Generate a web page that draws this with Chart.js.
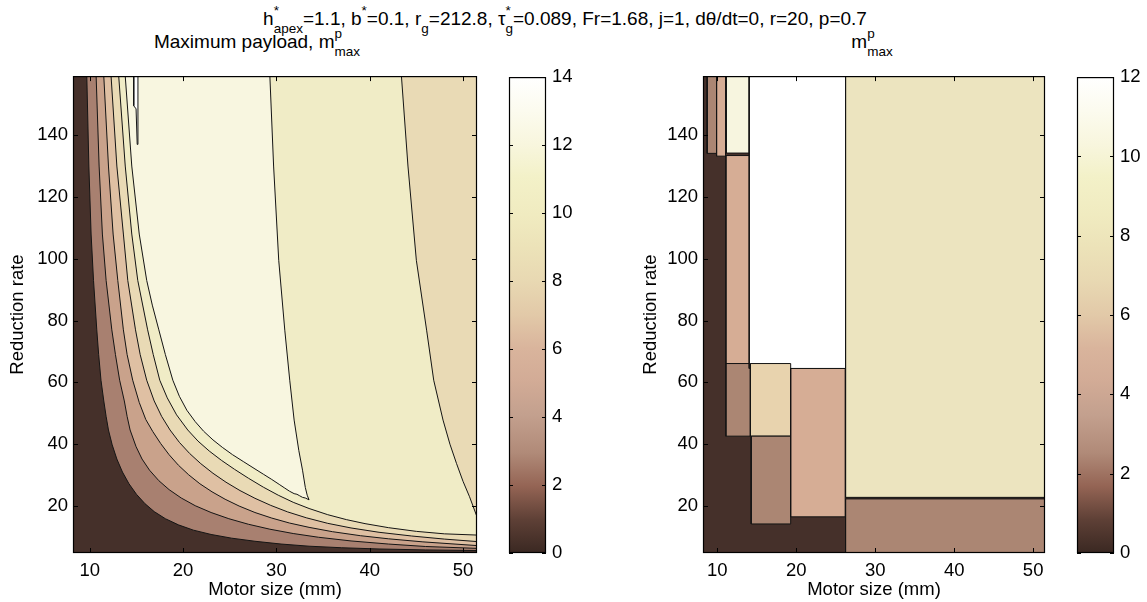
<!DOCTYPE html>
<html>
<head>
<meta charset="utf-8">
<title>Maximum payload</title>
<script src="https://cdn.jsdelivr.net/npm/chart.js@4.4.1/dist/chart.umd.min.js"></script>
<style>
  body { margin: 0; background: #fff; width: 1147px; height: 602px; position: relative; overflow: hidden;
         font-family: 'Liberation Sans', Arial, sans-serif; color: #000; }
  canvas { position: absolute; }
  .ttl { position: absolute; font-size: 19px; line-height: 19px; white-space: nowrap; }
  .ss { position: relative; display: inline-block; font-size: 13.5px; line-height: 13.5px; }
  .ss .hi { position: absolute; left: 0; top: -10px; }
  .ss .lo { position: relative; top: 8px; }
  .hi1 { position: relative; top: -10px; font-size: 13.5px; }
  .lo1 { position: relative; top: 8px; font-size: 13.5px; }
</style>
</head>
<body>
<div class="ttl" style="left:0;width:1130px;text-align:center;top:9px">h<span class="ss"><span class="hi">*</span><span class="lo">apex</span></span>=1.1, b<span class="hi1">*</span>=0.1, r<span class="lo1">g</span>=212.8, τ<span class="ss"><span class="hi">*</span><span class="lo">g</span></span>=0.089, Fr=1.68, j=1, dθ/dt=0, r=20, p=0.7</div>
<div class="ttl" style="left:57px;width:400px;text-align:center;top:32px">Maximum payload, m<span class="ss"><span class="hi">p</span><span class="lo">max</span></span></div>
<div class="ttl" style="left:772px;width:200px;text-align:center;top:32px">m<span class="ss"><span class="hi">p</span><span class="lo">max</span></span></div>

<canvas id="payload" width="500" height="542" style="left:0;top:60px"></canvas>
<canvas id="payloadBar" width="100" height="542" style="left:500px;top:60px"></canvas>
<canvas id="grid" width="440" height="542" style="left:630px;top:60px"></canvas>
<canvas id="gridBar" width="77" height="542" style="left:1070px;top:60px"></canvas>

<script>
// ---- axes ----
const X_MIN = 8.2, X_MAX = 51.5;
const Y_MIN = 4.8, Y_MAX = 159.1;
const xTicks = [10, 20, 30, 40, 50];
const yTicks = [20, 40, 60, 80, 100, 120, 140];
const payloadBarTicks = [0, 2, 4, 6, 8, 10, 12, 14];
const gridBarTicks = [0, 2, 4, 6, 8, 10, 12];

// ---- colour map (position along the bar, colour) ----
const cmapPos = [0, 0.07, 0.14, 0.21, 0.29, 0.36, 0.43, 0.5, 0.57, 0.64, 0.71, 0.79, 0.86, 0.93, 1];
const cmapColors = ['#3a2822', '#5e4036', '#946454', '#b08a78', '#c3a08e', '#d2ab96', '#d9b49c', '#e2c9a8',
                    '#e8d8b2', '#ece2b8', '#f0ebc0', '#f3f1c8', '#f8f6de', '#fcfbef', '#ffffff'];

// ---- left: contour lines of the payload surface (motor size, reduction rate) ----
const L1 = [[9.68,159.1],[9.9,130],[10.14,108],[10.4,93],[10.75,77],[10.95,69],[11.2,60.7],[11.5,54],[11.75,49],
            [12.0,44.6],[12.4,39.8],[12.9,35.2],[13.5,31.0],[14.2,27.2],[15.0,23.8],[15.9,20.8],[16.9,18.2],
            [18.1,15.9],[19.5,13.9],[21.1,12.2],[23,10.8],[25.2,9.6],[27.7,8.6],[30.5,7.7],[33.5,7.0],[37,6.5],
            [41,6.1],[46,5.8],[51.5,5.6]];
const L2 = [[10.68,159.1],[11.0,130],[11.35,108],[11.75,93],[12.36,77],[12.75,69],[13.2,60.7],[13.7,54],[14.0,49],
            [14.32,44.6],[14.96,39.2],[15.6,35.2],[16.4,31.6],[17.4,28.2],[18.5,25.3],[19.8,22.6],[21.3,20.1],
            [23,17.9],[24.9,15.9],[27,14.1],[29.3,12.5],[31.8,11.1],[34.5,9.9],[38,8.7],[42,7.7],[46,6.9],[51.5,6.3]];
const L3 = [[11.5,159.1],[12.0,130],[12.5,108],[13.0,93],[13.6,77],[14.0,69],[14.6,60.7],[15.3,53.5],[16.0,48],
            [16.75,44.1],[17.6,40.2],[18.5,36.6],[19.5,33.2],[20.6,30.1],[21.8,27.2],[23.1,24.6],[24.5,22.2],
            [26.0,20.0],[27.7,17.9],[29.5,16.1],[31.4,14.5],[33.5,13.1],[36,11.7],[39,10.4],[42,9.4],[45.7,8.4],
            [51.5,7.2]];
const L4 = [[12.28,159.1],[12.9,130],[13.6,108],[14.07,93],[14.9,77],[15.4,69],[16.1,60.7],[16.9,54],[17.7,49],
            [18.6,44.6],[19.6,40.6],[20.7,37],[21.9,33.7],[23.2,30.6],[24.6,27.7],[26.1,25.0],[27.7,22.5],
            [29.4,20.2],[31.2,18.1],[33.2,16.2],[35.5,14.4],[38,12.9],[41,11.5],[44.5,10.3],[48,9.3],[51.5,8.5]];
const L5 = [[13.1,159.1],[13.8,130],[14.5,108],[15.14,93],[16.2,77],[16.8,69],[17.5,60.7],[18.3,55],[19.3,49.5],
            [20.5,44.6],[21.6,41],[22.8,37.8],[24.1,34.8],[25.5,31.9],[27,29.0],[28.6,26.1],[30.2,23.5],[31.8,21.2],
            [33.5,19.2],[35.5,17.2],[37.5,15.6],[39.5,14.3],[42,13.0],[45,11.8],[48,11.0],[51.5,10.6]];
const L6 = [[13.8,159.1],[14.5,130],[15.3,108],[16.1,93],[16.7,85],[17.4,77],[18.1,69],[18.9,60.7],[19.6,55.5],
            [20.4,51],[21.3,47.3],[22.2,44.2],[23.2,41.4],[24.2,39.0],[25.3,36.6],[26.5,34.3],[27.6,32.2],
            [28.6,30.3],[29.5,28.6],[30.3,27.0],[30.9,25.8],[31.4,24.8],[31.9,24.0],[32.2,23.8],[32.5,23.3],
            [32.8,22.8],[33.1,22.6],[33.5,22.0]];
const R1 = [[29.3,159.1],[29.7,130],[30.25,99.5],[30.9,76.9],[31.43,60.7],[31.9,47.8],[32.4,38],[32.8,31.6],
            [33.1,26],[33.3,23.5],[33.5,22.0]];
const R2 = [[43.4,159.1],[44.1,130],[45.0,99.5],[46.1,76.9],[46.86,60.7],[47.86,47.8],[48.6,40],[49.3,33.8],
            [50.0,28],[50.7,23.0],[51.5,16.5]];
const PEAK = [[14.71,159.1],[14.71,149.5],[14.96,148.5],[15.08,137],[15.16,137],[15.16,159.1]];
const payloadColors = ['#45302a', '#a88070', '#c9a28b', '#dfc0a3', '#e9dab5', '#f0ecc6', '#f8f6e0', '#ffffff'];

// ---- right: piecewise constant map, one rectangle per cell, painted in order ----
const cellX0 = [8.2, 8.73, 9.92, 11.15, 11.1, 11.1, 14.05, 14.2, 14.3, 19.3, 26.25, 26.25];
const cellX1 = [51.5, 9.92, 11.05, 14.05, 14.2, 14.2, 26.25, 19.3, 19.3, 26.2, 51.5, 51.5];
const cellY0 = [4.8, 134.1, 133.2, 134.2, 66.1, 42.6, 64.5, 42.6, 14.2, 16.5, 22.8, 4.8];
const cellY1 = [159.1, 159.1, 159.1, 159.1, 133.4, 66.1, 159.1, 66.1, 42.6, 64.5, 159.1, 22.3];
const cellBand = [0, 1, 2, 5, 2, 1, 6, 3, 1, 2, 4, 1];
const gridColors = ['#45302a', '#ab8673', '#d6ad95', '#e8d3ae', '#ece4bf', '#f7f5df', '#ffffff'];

const tickFont = { family: "'Liberation Sans', Arial, sans-serif", size: 18.5 };

// inward ticks on every side plus the axes box
const frameTicks = {
  id: 'frameTicks',
  afterDatasetsDraw(chart, args, opts) {
    const { ctx, chartArea: a, scales } = chart;
    const len = opts.len;
    ctx.save();
    ctx.strokeStyle = '#000';
    ctx.lineWidth = 1;
    ctx.beginPath();
    if (opts.xTicks) {
      for (const t of scales.x.ticks) {
        const px = Math.round(scales.x.getPixelForValue(t.value)) + 0.5;
        ctx.moveTo(px, a.bottom); ctx.lineTo(px, a.bottom - len);
        ctx.moveTo(px, a.top); ctx.lineTo(px, a.top + len);
      }
    }
    for (const t of scales.y.ticks) {
      const py = Math.round(scales.y.getPixelForValue(t.value)) + 0.5;
      ctx.moveTo(a.left, py); ctx.lineTo(a.left + len, py);
      ctx.moveTo(a.right, py); ctx.lineTo(a.right - len, py);
    }
    ctx.stroke();
    ctx.lineWidth = 1.2;
    ctx.strokeRect(a.left + 0.5, a.top + 0.5, a.right - a.left - 1, a.bottom - a.top - 1);
    ctx.restore();
  }
};

function region(points, color, edged, order) {
  return {
    data: points.map(([x, y]) => ({ x, y })),
    showLine: true,
    fill: 'shape',
    backgroundColor: color,
    borderColor: edged ? '#141414' : 'rgba(0,0,0,0)',
    borderWidth: 1,
    pointRadius: 0,
    tension: 0,
    order
  };
}

function panelOptions(padRight, titleGap) {
  return {
    responsive: false,
    animation: false,
    events: [],
    layout: { padding: { top: 16, right: padRight, left: 0, bottom: 0 } },
    plugins: { legend: { display: false }, tooltip: { enabled: false }, frameTicks: { len: 5, xTicks: true } },
    scales: {
      x: {
        type: 'linear', min: X_MIN, max: X_MAX,
        afterBuildTicks: s => { s.ticks = xTicks.map(value => ({ value })); },
        afterFit: s => { s.height = 49; },
        grid: { display: false, drawTicks: false }, border: { display: false },
        ticks: { color: '#000', font: tickFont, padding: 7, maxRotation: 0 },
        title: { display: true, text: 'Motor size (mm)', color: '#000', font: tickFont, padding: { top: 0, bottom: 1 } }
      },
      y: {
        type: 'linear', min: Y_MIN, max: Y_MAX,
        afterBuildTicks: s => { s.ticks = yTicks.map(value => ({ value })); },
        afterFit: s => { s.width = 73; },
        grid: { display: false, drawTicks: false }, border: { display: false },
        ticks: { color: '#000', font: tickFont, padding: 5 },
        title: { display: true, text: 'Reduction rate', color: '#000', font: tickFont, padding: { top: titleGap, bottom: 0 } }
      }
    }
  };
}

// ---- left panel ----
const payloadRegions = [
  [[X_MIN, Y_MIN], [X_MAX, Y_MIN], [X_MAX, Y_MAX], [X_MIN, Y_MAX]],
  [...L1, [X_MAX, Y_MAX]],
  [...L2, [X_MAX, Y_MAX]],
  [...L3, [X_MAX, Y_MAX]],
  [...L4, [X_MAX, Y_MAX]],
  [...L5, ...R2.slice().reverse()],
  [...L6, ...R1.slice().reverse()],
  PEAK
];
new Chart(document.getElementById('payload'), {
  type: 'scatter',
  data: {
    datasets: payloadRegions.map((pts, i) =>
      region(pts, payloadColors[i], i > 0, payloadRegions.length - i))
  },
  options: panelOptions(23, 7),
  plugins: [frameTicks]
});

// ---- right panel ----
new Chart(document.getElementById('grid'), {
  type: 'scatter',
  data: {
    datasets: cellBand.map((band, i) => region([
      [cellX0[i], cellY0[i]], [cellX1[i], cellY0[i]], [cellX1[i], cellY1[i]],
      [cellX0[i], cellY1[i]], [cellX0[i], cellY0[i]]
    ], gridColors[band], i > 0, cellBand.length - i))
  },
  options: panelOptions(25, 10),
  plugins: [frameTicks]
});

// ---- colour bars ----
function colourBar(id, ticks, padLeft, axisWidth) {
  const top = ticks[ticks.length - 1];
  new Chart(document.getElementById(id), {
    type: 'bar',
    data: {
      labels: [''],
      datasets: [{
        data: [[ticks[0], top]],
        backgroundColor: c => {
          const area = c.chart.chartArea;
          if (!area) return cmapColors[0];
          const g = c.chart.ctx.createLinearGradient(0, area.bottom, 0, area.top);
          cmapPos.forEach((p, i) => g.addColorStop(p, cmapColors[i]));
          return g;
        },
        borderWidth: 0,
        barPercentage: 1,
        categoryPercentage: 1
      }]
    },
    options: {
      responsive: false,
      animation: false,
      events: [],
      layout: { padding: { top: 16, bottom: 49, left: padLeft, right: 0 } },
      plugins: { legend: { display: false }, tooltip: { enabled: false }, frameTicks: { len: 4, xTicks: false } },
      scales: {
        x: { display: false },
        y: {
          position: 'right', min: ticks[0], max: top,
          afterBuildTicks: s => { s.ticks = ticks.map(value => ({ value })); },
          afterFit: s => { s.width = axisWidth; },
          grid: { display: false, drawTicks: false }, border: { display: false },
          ticks: { color: '#000', font: tickFont, padding: 6 }
        }
      }
    },
    plugins: [frameTicks]
  });
}
colourBar('payloadBar', payloadBarTicks, 9, 54);
colourBar('gridBar', gridBarTicks, 7, 33);
</script>
</body>
</html>
